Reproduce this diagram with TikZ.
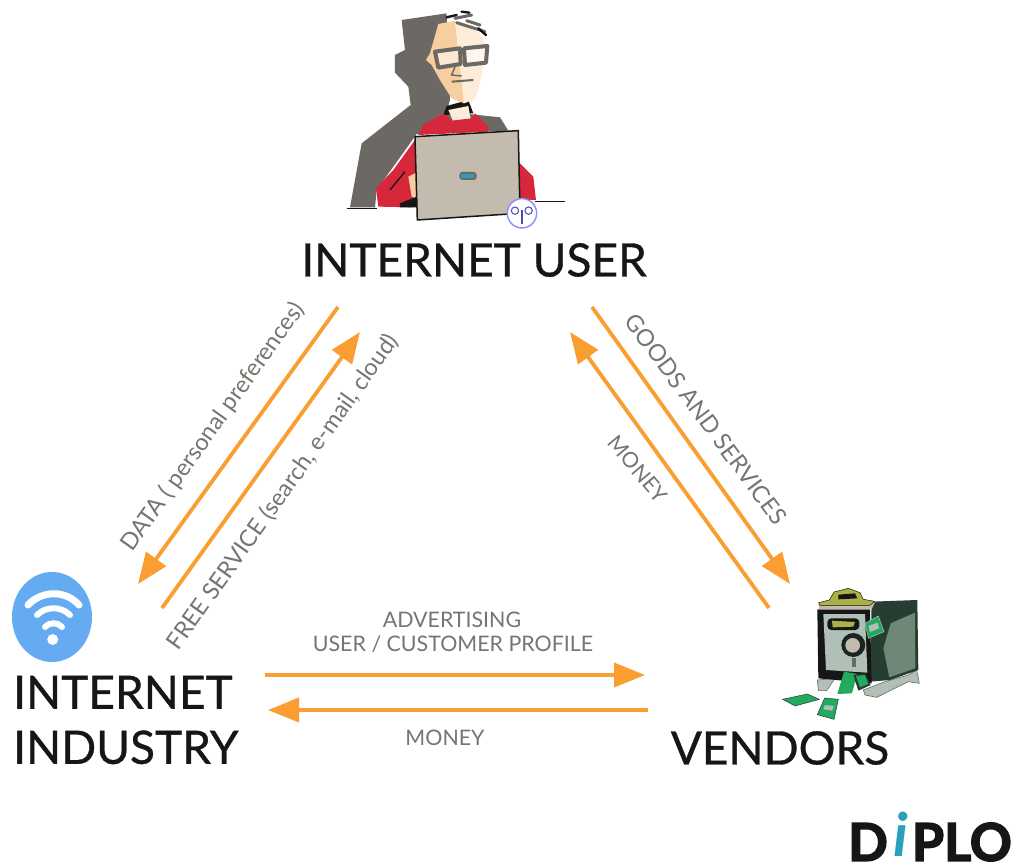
\documentclass[tikz,border=0pt]{standalone}
\usepackage{fontspec}
\setmainfont{Lato}
\newfontfamily\heavyf[UprightFeatures={FakeBold=0.7}]{Lato}
\newfontfamily\logof[BoldFeatures={FakeBold=3}]{Lato}
\usetikzlibrary{arrows.meta}
\definecolor{flow}{RGB}{250,158,50}
\definecolor{lab}{RGB}{118,118,112}
\definecolor{ink}{RGB}{22,22,22}
\definecolor{greyshadow}{RGB}{108,105,100}
\definecolor{skin}{RGB}{246,206,160}
\definecolor{skinl}{RGB}{253,236,216}
\definecolor{sweater}{RGB}{214,40,58}
\definecolor{lap}{RGB}{196,187,175}
\definecolor{wifi}{RGB}{100,171,242}
\definecolor{safel}{RGB}{176,192,182}
\definecolor{safed}{RGB}{38,62,50}
\definecolor{safem}{RGB}{110,135,118}
\definecolor{olive}{RGB}{170,178,70}
\definecolor{cash}{RGB}{34,170,96}
\definecolor{diploi}{RGB}{40,160,190}
\tikzset{
 flowarrow/.style={draw=flow,line width=3.8pt,-{Triangle[length=31pt,width=24pt]}},
 bigtext/.style={font=\heavyf\fontsize{46}{52}\selectfont,text=ink,inner sep=0pt,align=left},
 smalltext/.style={font=\fontsize{23.5}{26}\selectfont,text=lab,inner sep=0pt},
 flattext/.style={font=\fontsize{21.4}{26}\selectfont,text=lab,inner sep=0pt},
 wave/.style={draw=white,line cap=round}
}
\begin{document}
\begin{tikzpicture}[x=1pt,y=-1pt]
\useasboundingbox (0,0) rectangle (1014,865);
\fill[white] (0,0) rectangle (1014,865);

% ---------- internet user figure
\begin{scope}[shift={(340,0)},x=0.3333pt,y=-0.3333pt]
 \fill[greyshadow] (185,60)--(320,40)--(330,300)--(320,335)--(480,352)--(505,392)--(230,402)--(210,430)--(110,570)--(105,622)--(30,622)--(65,430)--(212,315)--(205,260)--(165,218)--(165,165)--(195,150)--cycle;
 \draw[ink,line width=1pt] (20,625)--(110,625);
 \draw[ink,line width=1.2pt] (585,604)--(676,604);
 % neck and collar
 \fill[ink] (320,318)--(385,300)--(400,340)--(310,345)--cycle;
 \fill[skinl] (325,330)--(385,318)--(392,358)--(340,365)--cycle;
 % sweater
 \fill[sweater] (310,340)--(335,362)--(395,355)--(405,340)--(445,380)--(445,395)--(235,405)--(250,375)--cycle;
 \fill[sweater] (225,420)--(160,510)--(108,565)--(115,620)--(215,622)--(240,500)--cycle;
 \fill[sweater] (535,485)--(580,530)--(588,600)--(535,600)--cycle;
 \fill[skin] (205,530)--(235,515)--(235,595)--(215,590)--cycle;
 \fill[ink] (180,610)--(230,590)--(235,622)--(180,622)--cycle;
 \draw[ink,line width=1.3pt] (150,570)--(195,515);
 % face
 \fill[skin] (295,72)--(345,62)--(372,310)--(335,295)--(300,240)--(275,195)--(258,180)--(270,160)--cycle;
 \fill[skinl] (345,62)--(420,100)--(440,140)--(420,250)--(405,298)--(372,310)--cycle;
 % hair
 \draw[greyshadow,line width=3pt,line cap=round] (345,55)--(395,45) (350,68)--(435,95) (380,62)--(420,75);
 \draw[ink,line width=2.4pt,line cap=round] (320,52)--(350,45) (365,35)--(388,38) (415,85)--(438,105);
 % glasses
 \draw[greyshadow,line width=4pt,line join=round,fill=white,fill opacity=0.55] (285,155)--(360,145)--(362,192)--(295,203)--cycle;
 \draw[greyshadow,line width=4pt,line join=round,fill=white,fill opacity=0.55] (372,145)--(442,138)--(438,188)--(375,195)--cycle;
 \draw[greyshadow,line width=3pt] (360,160)--(372,158);
 \draw[greyshadow,line width=1.5pt] (345,200)--(335,225)--(365,228);
 \draw[greyshadow,line width=2pt] (335,245)--(400,240);
 % laptop
 \fill[lap,draw=ink,line width=1.5pt,line join=round] (225,410)--(535,392)--(540,640)--(232,660)--cycle;
 \fill[greyshadow,rounded corners=3pt] (358,516) rectangle (410,540);
 \fill[diploi] (364,521) rectangle (402,534);
 % badge
 \fill[white,draw=blue!45!white,line width=1.4pt] (546,640) circle (44);
 \draw[blue!40!gray,line width=1pt] (525,632) circle (11) (566,632) circle (11);
 \draw[blue!40!gray,line width=1.5pt] (546,630)--(546,672);
\end{scope}

% ---------- vendors figure
\begin{scope}[shift={(770,570)},x=0.3333pt,y=-0.3333pt]
 \fill[safel,draw=greyshadow,line width=.6pt] (142,330)--(195,325)--(170,362)--(145,362)--cycle;
 \fill[safel,draw=greyshadow,line width=.6pt] (280,360)--(345,335)--(415,315)--(440,300)--(448,340)--(415,335)--(320,382)--(285,375)--cycle;
 \fill[safed] (305,95)--(442,90)--(445,300)--(360,330)--(300,335)--cycle;
 \fill[safem] (435,128)--(362,160)--(340,235)--(358,322)--(436,295)--cycle;
 \fill[ink] (142,118)--(300,118)--(305,340)--(145,325)--cycle;
 \fill[safel] (160,132)--(285,132)--(292,308)--(168,300)--cycle;
 \fill[lap] (145,100)--(315,96)--(305,118)--(148,118)--cycle;
 \fill[olive,draw=ink,line width=.5pt] (146,98)--(178,90)--(192,66)--(235,55)--(270,68)--(280,88)--(314,94)--(300,106)--(150,106)--cycle;
 \fill[ink] (205,74)--(255,70)--(262,85)--(205,88)--cycle;
 \fill[ink,rounded corners=4pt] (172,145) rectangle (268,180);
 \fill[olive] (186,152)--(255,156)--(250,170)--(188,172)--cycle;
 \fill[ink!60!safed] (250,225) circle (36);
 \fill[lap] (248,226) circle (22);
 \fill[greyshadow] (246,265) rectangle (258,290);
 \fill[cash,draw=safel,line width=.5pt] (285,160)--(325,138)--(342,185)--(295,205)--cycle;
 \fill[safel] (295,168)--(322,158)--(328,175)--(300,186)--cycle;
 \fill[cash] (222,305)--(262,312)--(246,370)--(202,372)--cycle;
 \fill[safed] (250,315)--(285,310)--(302,345)--(265,362)--cycle;
 \fill[cash] (258,318)--(285,315)--(295,342)--(270,352)--cycle;
 \fill[cash,draw=safed,line width=.5pt] (38,388)--(112,372)--(148,388)--(75,408)--cycle;
 \fill[cash,draw=safed,line width=.5pt] (164,384)--(205,388)--(192,448)--(142,434)--cycle;
 \fill[safel] (165,405)--(192,408)--(186,422)--(160,418)--cycle;
\end{scope}

% ---------- wifi icon
\fill[wifi] (52,617) ellipse [x radius=40,y radius=45];
\fill[white] (52.7,639.5) circle (5.5);
\draw[wave,line width=7pt] (28,605) .. controls (42,590) and (66,590) .. (79,605);
\draw[wave,line width=6pt] (37,615) .. controls (46,606) and (61,606) .. (70,615);
\draw[wave,line width=6pt] (45,627) .. controls (49,622) and (58,622) .. (62,627);

% ---------- titles
\node[bigtext,anchor=center] (user) at (474,260) {INTERNET USER};
\node[bigtext,anchor=west] (industry) at (13,720) {INTERNET\\[3pt]INDUSTRY};
\node[bigtext,anchor=center] (vendors) at (780,748) {VENDORS};

% ---------- connector ends
\coordinate (da) at (338,307); \coordinate (db) at (138,584);
\coordinate (fa) at (162,608); \coordinate (fb) at (360,332);
\coordinate (ga) at (592,307); \coordinate (gb) at (790,584);
\coordinate (ma) at (769,608); \coordinate (mb) at (570,332);
\coordinate (aa) at (265,675); \coordinate (ab) at (645,675);
\coordinate (na) at (648,710); \coordinate (nb) at (268,710);
\draw[flowarrow] (da)--(db);
\draw[flowarrow] (fa)--(fb);
\draw[flowarrow] (ga)--(gb);
\draw[flowarrow] (ma)--(mb);
\draw[flowarrow] (aa)--(ab);
\draw[flowarrow] (na)--(nb);

% ---------- flow labels
\node[smalltext,rotate=54.6] (l1) at (213,427) {DATA ( personal preferences)};
\node[smalltext,rotate=54.6] (l2) at (283,492) {FREE SERVICE (search, e-mail, cloud)};
\node[smalltext,rotate=-53.5] (l3) at (706,419) {GOODS AND SERVICES};
\node[flattext,rotate=-50] (l4) at (638,469) {MONEY};
\node[flattext] (l5) at (452,620) {ADVERTISING};
\node[flattext] (l6) at (453,644) {USER / CUSTOMER PROFILE};
\node[flattext] (l7) at (445,738) {MONEY};

% ---------- logo
\node[inner sep=0pt,anchor=east,text=ink,font=\logof\bfseries\fontsize{52}{52}\selectfont] (logo) at (1012,842) {PLO};
\node[inner sep=0pt,anchor=east,text=ink,font=\logof\bfseries\fontsize{52}{52}\selectfont] (logod) at (888,842) {D};
\node[inner sep=0pt,text=diploi,font=\logof\bfseries\itshape\fontsize{60}{60}\selectfont] (logoi) at (901,834) {i};
\end{tikzpicture}
\end{document}
